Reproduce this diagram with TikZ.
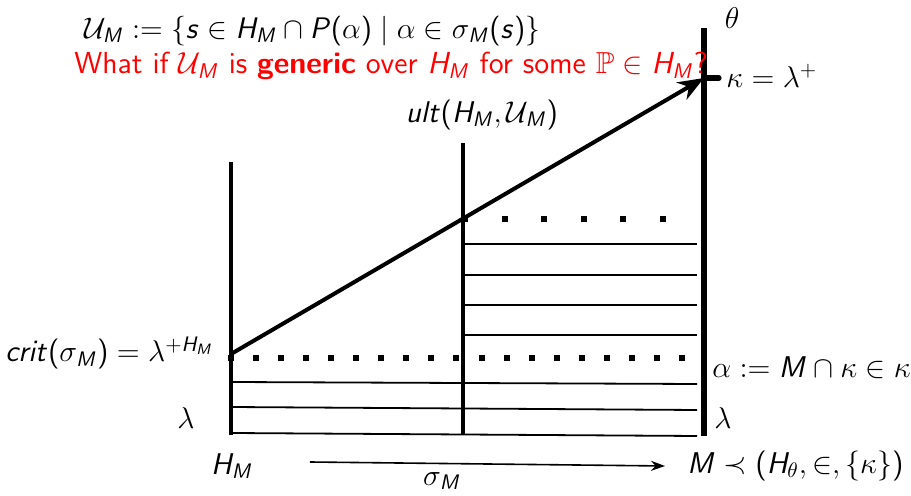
\RequirePackage{fix-cm}
\documentclass[tikz,border=0pt]{standalone}
\usepackage{amsmath,amssymb}
\usetikzlibrary{arrows.meta}
\renewcommand{\familydefault}{\sfdefault}
\DeclareSymbolFont{sfletters}{OT1}{cmss}{m}{sl}
\DeclareSymbolFont{sfops}{OT1}{cmss}{m}{n}
\DeclareMathSymbol{c}{\mathalpha}{sfletters}{`c}
\DeclareMathSymbol{r}{\mathalpha}{sfletters}{`r}
\DeclareMathSymbol{i}{\mathalpha}{sfletters}{`i}
\DeclareMathSymbol{t}{\mathalpha}{sfletters}{`t}
\DeclareMathSymbol{u}{\mathalpha}{sfletters}{`u}
\DeclareMathSymbol{l}{\mathalpha}{sfletters}{`l}
\DeclareMathSymbol{s}{\mathalpha}{sfletters}{`s}
\DeclareMathSymbol{H}{\mathalpha}{sfletters}{`H}
\DeclareMathSymbol{M}{\mathalpha}{sfletters}{`M}
\DeclareMathSymbol{P}{\mathalpha}{sfletters}{`P}
\DeclareMathSymbol{(}{\mathopen}{sfops}{`(}
\DeclareMathSymbol{)}{\mathclose}{sfops}{`)}
\begin{document}
\begin{tikzpicture}[x=0.5pt,y=-0.5pt,
  font=\fontsize{15}{17}\selectfont,
  vline/.style={line width=2pt},
  rline/.style={line width=3.2pt},
  hline/.style={line width=0.9pt},
  dotsq/.style={fill=black,minimum size=3pt,inner sep=0pt},
  lbl/.style={inner sep=0pt}]
\useasboundingbox (0,0) rectangle (911,496);
% verticals
\coordinate (Lt) at (231,162); \coordinate (Lb) at (231,435);
\coordinate (Mt) at (463,143); \coordinate (Mb) at (463,435);
\coordinate (Rt) at (704,28);  \coordinate (Rb) at (704,436);
% horizontal lines (lower)
\foreach \a/\b [count=\k] in {382/384,407/410,433/436}{
  \coordinate (hl\k) at (231,\a); \coordinate (hr\k) at (697,\b);
  \draw[hline] (hl\k) -- (hr\k);}
% horizontal lines (upper right)
\foreach \a [count=\k] in {244,275,305,335}{
  \coordinate (ul\k) at (463,\a); \coordinate (ur\k) at (697,\a);
  \draw[hline] (ul\k) -- (ur\k);}
\draw[vline] (Lt) -- (Lb);
\draw[vline] (Mt) -- (Mb);
\draw[rline] (Rt) -- (Rb);
% dots
\foreach \k in {0,...,18}{ \node[dotsq] (d\k) at ({231+25.05*\k},358) {}; }
\foreach \k in {0,...,5}{ \node[dotsq] (e\k) at ({465+39.6*\k},219) {}; }
% kappa tick and main arrow
\coordinate (A0) at (231,354);
\coordinate (K) at (704,78);
\coordinate (Kt) at (719,78);
\draw[line width=2.6pt,line cap=round] (K) -- (Kt);
\draw[line width=2pt,-{Stealth[length=13pt,width=10pt]}] (A0) -- (K);
% labels
\node[lbl] (theta) at (732,18) {$\theta$};
\node[lbl,anchor=west] (kap) at (726,76) {$\kappa=\lambda^+$};
\node[lbl] (ult) at (482,115) {$ult(H_M,\mathcal{U}_M)$};
\node[lbl,anchor=east] (crit) at (214,353) {$crit(\sigma_M)=\lambda^{+H_M}$};
\node[lbl,anchor=west] (alpha) at (712,368) {$\alpha:=M\cap\kappa\in\kappa$};
\node[lbl] (lamL) at (186,418) {$\lambda$};
\node[lbl] (lamR) at (723,418) {$\lambda$};
\node[lbl] (HM) at (232,466) {$H_M$};
\node[lbl,anchor=west] (Mn) at (687,466) {$M\prec(H_\theta,\in,\{\kappa\})$};
\node[lbl] (sig) at (442,481) {$\sigma_M$};
\coordinate (B0) at (310,462);
\coordinate (B1) at (665,466);
\draw[line width=0.8pt,-{Stealth[length=7pt,width=5pt]}] (B0) -- (B1);
\node[lbl,anchor=west,font=\fontsize{14.85}{17}\selectfont] (def) at (84,31) {$\mathcal{U}_M:=\{s\in H_M\cap P(\alpha)\mid \alpha\in\sigma_M(s)\}$};
\node[lbl,anchor=west,text=red,font=\fontsize{15.2}{17}\selectfont] (q) at (74,66) {What if $\mathcal{U}_M$ is \textbf{generic} over $H_M$ for some $\mathbb{P}\in H_M$?};
\end{tikzpicture}
\end{document}
